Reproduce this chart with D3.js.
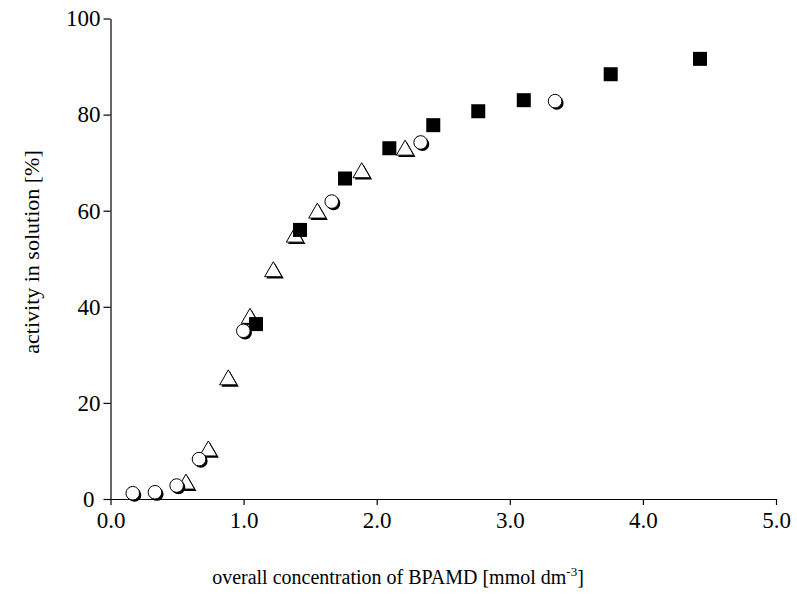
<!DOCTYPE html>
<html>
<head>
<meta charset="utf-8">
<script src="https://cdn.jsdelivr.net/npm/d3@7"></script>
<style>
  html, body { margin: 0; padding: 0; background: #fff; }
  svg { display: block; }
  text { font-family: "Liberation Serif", "Times New Roman", serif; fill: #000; }
</style>
</head>
<body>
<svg id="chart" width="797" height="598"></svg>
<script>
// Series: overall BPAMD concentration [mmol dm^-3] vs. activity in solution [%]
const squareX = [1.093, 1.424, 1.762, 2.095, 2.425, 2.763, 3.105, 3.758, 4.429];
const squareY = [36.4, 56.0, 66.7, 73.0, 77.8, 80.7, 83.0, 88.4, 91.6];

const triangleX = [0.567, 0.735, 0.885, 1.048, 1.223, 1.386, 1.554, 1.887, 2.213];
const triangleY = [3.1, 10.0, 24.8, 37.6, 47.3, 54.5, 59.5, 67.9, 72.6];

const circleX = [0.167, 0.334, 0.497, 0.665, 0.998, 1.662, 2.33, 3.34];
const circleY = [1.2, 1.4, 2.8, 8.3, 35.0, 61.9, 74.2, 82.8];

const xTicks = [0, 1, 2, 3, 4, 5];
const yTicks = [0, 20, 40, 60, 80, 100];

const svg = d3.select("#chart");

const x = d3.scaleLinear().domain([0, 5]).range([110.5, 776]);
const y = d3.scaleLinear().domain([0, 100]).range([499, 18.5]);

const serif = '"Liberation Serif", "Times New Roman", serif';

// Axes
const xAxis = svg.append("g")
  .attr("transform", `translate(0,${y(0)})`)
  .call(d3.axisBottom(x).tickValues(xTicks).tickFormat(d3.format(".1f"))
    .tickSizeInner(6).tickSizeOuter(0).tickPadding(7));

const yAxis = svg.append("g")
  .attr("transform", `translate(${x(0)},0)`)
  .call(d3.axisLeft(y).tickValues(yTicks).tickFormat(d3.format("d"))
    .tickSizeInner(7).tickSizeOuter(0).tickPadding(3));

[xAxis, yAxis].forEach(g => {
  g.attr("font-family", serif).attr("font-size", 23);
  g.select(".domain").attr("stroke", "#000").attr("stroke-width", 1.2);
  g.selectAll(".tick line").attr("stroke", "#000").attr("stroke-width", 1.2);
  g.selectAll(".tick text").attr("fill", "#000");
});
// the "0" label sits a little further left of the origin
yAxis.selectAll(".tick").filter(d => d === 0).select("text").attr("x", -16);

// Axis titles
svg.append("text")
  .attr("x", 398).attr("y", 584)
  .attr("text-anchor", "middle")
  .attr("font-size", 20)
  .html('overall concentration of BPAMD [mmol dm<tspan dy="-8" font-size="13">-3</tspan><tspan dy="8">]</tspan>');

svg.append("text")
  .attr("transform", "translate(39,252) rotate(-90)")
  .attr("text-anchor", "middle")
  .attr("font-size", 22)
  .text("activity in solution [%]");

// Markers: shadowed open triangles, filled squares, shadowed open circles
const sh = 1.8;
const triPath = d3.symbol().type(d3.symbolTriangle).size(130);

function pts(xs, ys) { return xs.map((v, i) => [v, ys[i]]); }

const tri = svg.append("g");
pts(triangleX, triangleY).forEach(([a, b]) => {
  const g = tri.append("g").attr("transform", `translate(${x(a)},${y(b)})`);
  g.append("path").attr("d", triPath()).attr("transform", `translate(${sh},${sh})`)
    .attr("fill", "#000");
  g.append("path").attr("d", triPath()).attr("fill", "#fff")
    .attr("stroke", "#000").attr("stroke-width", 1);
});

svg.append("g").selectAll("rect")
  .data(pts(squareX, squareY))
  .join("rect")
  .attr("x", d => x(d[0]) - 7).attr("y", d => y(d[1]) - 7)
  .attr("width", 14).attr("height", 14)
  .attr("fill", "#000");

const circ = svg.append("g");
pts(circleX, circleY).forEach(([a, b]) => {
  const g = circ.append("g").attr("transform", `translate(${x(a)},${y(b)})`);
  g.append("circle").attr("cx", sh).attr("cy", sh).attr("r", 6.8).attr("fill", "#000");
  g.append("circle").attr("r", 6.8).attr("fill", "#fff")
    .attr("stroke", "#000").attr("stroke-width", 1);
});
</script>
</body>
</html>
